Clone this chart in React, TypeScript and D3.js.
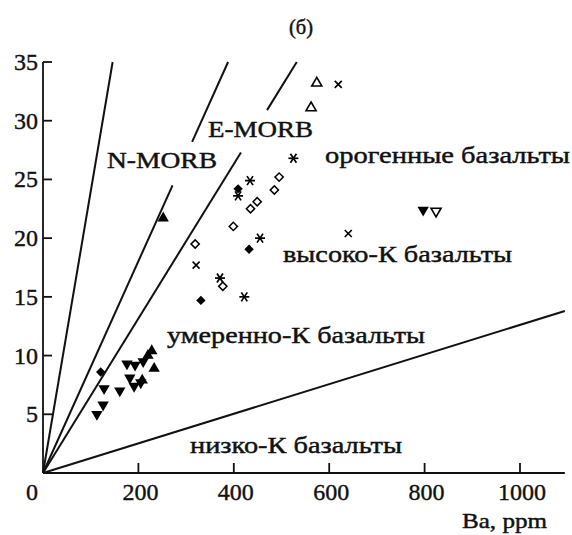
import React from 'react';
import * as d3 from 'd3';

// ---- data ----
const xTicks = [0, 200, 400, 600, 800, 1000];
const yTicks = [5, 10, 15, 20, 25, 30, 35];

// reference lines from origin: end point (Ba, K) and optional label gap (K range)
const lineEndBa = [146, 388, 532, 1094];
const lineEndK = [35, 35, 35, 13.8];
const lineGapLow = [null, 24.5, 27.3, null];
const lineGapHigh = [null, 28.2, 30.9, null];

const filledDown: [number, number][] = [
  [113, 5.0], [126, 5.8], [128, 7.2], [161, 7.0], [176, 9.3], [193, 9.2],
  [182, 8.1], [191, 7.4], [205, 7.7], [210, 9.5], [797, 22.4],
];
const filledUp: [number, number][] = [
  [252, 21.7], [208, 7.9], [220, 10.0], [228, 10.4], [233, 8.9],
];
const filledDiamond: [number, number][] = [
  [121, 8.6], [331, 14.7], [432, 19.05], [409, 24.2],
];
const openDiamond: [number, number][] = [
  [319, 19.5], [377, 15.9], [399, 21.0], [435, 22.5], [449, 23.1], [485, 24.1], [495, 25.2],
];
const openUp: [number, number][] = [[574, 33.2], [562, 31.1]];
const openDown: [number, number][] = [[824, 22.3]];
const crosses: [number, number][] = [[619, 33.1], [640, 20.4], [321, 17.7]];
const asterisks: [number, number][] = [
  [525, 26.8], [434, 24.9], [409, 23.6], [455, 20.0], [371, 16.6], [422, 15.0],
];

const FONT = '"Liberation Serif", "Times New Roman", serif';

export default function App() {
  const x = d3.scaleLinear().domain([0, 1000]).range([43, 520]);
  const y = d3.scaleLinear().domain([0, 35]).range([473, 62]);
  const xEnd = 1094;

  const tri = d3.symbol().type(d3.symbolTriangle).size(56)() as string;
  const triOpen = d3.symbol().type(d3.symbolTriangle).size(44)() as string;
  const sqFilled = d3.symbol().type(d3.symbolSquare).size(44)() as string;
  const sqOpen = d3.symbol().type(d3.symbolSquare).size(34)() as string;

  const segs: { x1: number; y1: number; x2: number; y2: number }[] = [];
  lineEndBa.forEach((ba, i) => {
    const k = lineEndK[i];
    const lo = lineGapLow[i];
    const hi = lineGapHigh[i];
    if (lo == null || hi == null) {
      segs.push({ x1: x(0), y1: y(0), x2: x(ba), y2: y(k) });
    } else {
      segs.push({ x1: x(0), y1: y(0), x2: x((ba * lo) / k), y2: y(lo) });
      segs.push({ x1: x((ba * hi) / k), y1: y(hi), x2: x(ba), y2: y(k) });
    }
  });

  const label = (t: string, px: number, py: number, w: number, fs: number) => (
    <text
      x={px}
      y={py}
      fontSize={fs}
      fontFamily={FONT}
      textLength={w}
      lengthAdjust="spacingAndGlyphs"
      fill="#111"
      stroke="#111"
      strokeWidth={0.45}
    >
      {t}
    </text>
  );

  return (
    <svg
      width={572}
      height={535}
      style={{ position: 'absolute', left: 0, top: 0, background: '#fff' }}
    >
      <rect width={572} height={535} fill="#fff" />
      {/* axes */}
      <line x1={x(0)} y1={y(0)} x2={x(xEnd)} y2={y(0)} stroke="#111" strokeWidth={1.8} />
      <line x1={x(0)} y1={y(0)} x2={x(0)} y2={y(35)} stroke="#111" strokeWidth={1.8} />
      {xTicks.filter((t) => t > 0).map((t) => (
        <line key={'xt' + t} x1={x(t)} x2={x(t)} y1={y(0)} y2={y(0) - 10} stroke="#111" strokeWidth={1.8} />
      ))}
      {yTicks.map((t) => (
        <line key={'yt' + t} x1={x(0)} x2={x(0) + 9} y1={y(t)} y2={y(t)} stroke="#111" strokeWidth={1.8} />
      ))}
      {xTicks.map((t) => (
        <text
          key={'xl' + t}
          x={t === 0 ? x(t) - 11 : x(t) + 2}
          y={500}
          fontSize={24}
          fontFamily={FONT}
          textAnchor="middle"
          fill="#111"
          stroke="#111"
          strokeWidth={0.4}
        >
          {t}
        </text>
      ))}
      {yTicks.map((t) => (
        <text
          key={'yl' + t}
          x={38}
          y={y(t) + 8}
          fontSize={24}
          fontFamily={FONT}
          textAnchor="end"
          fill="#111"
          stroke="#111"
          strokeWidth={0.4}
        >
          {t}
        </text>
      ))}

      {/* reference lines */}
      {segs.map((s, i) => (
        <line key={'s' + i} {...s} stroke="#111" strokeWidth={2} />
      ))}

      {/* points */}
      {filledDown.map(([b, k], i) => (
        <path key={'fd' + i} d={tri} transform={`translate(${x(b)},${y(k)}) rotate(180)`} fill="#000" />
      ))}
      {filledUp.map(([b, k], i) => (
        <path key={'fu' + i} d={tri} transform={`translate(${x(b)},${y(k)})`} fill="#000" />
      ))}
      {openDown.map(([b, k], i) => (
        <path key={'od' + i} d={triOpen} transform={`translate(${x(b)},${y(k)}) rotate(180)`} fill="#fff" stroke="#000" strokeWidth={1.6} />
      ))}
      {openUp.map(([b, k], i) => (
        <path key={'ou' + i} d={triOpen} transform={`translate(${x(b)},${y(k)})`} fill="#fff" stroke="#000" strokeWidth={1.6} />
      ))}
      {filledDiamond.map(([b, k], i) => (
        <path key={'fm' + i} d={sqFilled} transform={`translate(${x(b)},${y(k)}) rotate(45)`} fill="#000" />
      ))}
      {openDiamond.map(([b, k], i) => (
        <path key={'om' + i} d={sqOpen} transform={`translate(${x(b)},${y(k)}) rotate(45)`} fill="#fff" stroke="#000" strokeWidth={1.5} />
      ))}
      {crosses.map(([b, k], i) => (
        <g key={'cx' + i} transform={`translate(${x(b)},${y(k)})`} stroke="#000" strokeWidth={1.6}>
          <line x1={-3.5} y1={-3.5} x2={3.5} y2={3.5} />
          <line x1={-3.5} y1={3.5} x2={3.5} y2={-3.5} />
        </g>
      ))}
      {asterisks.map(([b, k], i) => (
        <g key={'as' + i} transform={`translate(${x(b)},${y(k)})`} stroke="#000" strokeWidth={1.7}>
          <line x1={-5} y1={0} x2={5} y2={0} />
          <line x1={-3} y1={-4.5} x2={3} y2={4.5} />
          <line x1={-3} y1={4.5} x2={3} y2={-4.5} />
        </g>
      ))}

      {/* labels */}
      {label('(б)', 289, 34, 24, 20)}
      {label('N-MORB', 107, 168, 110, 24)}
      {label('E-MORB', 208, 137, 105, 24)}
      {label('орогенные базальты', 325, 163, 245, 24)}
      {label('высоко-К базальты', 283, 262, 229, 24)}
      {label('умеренно-К базальты', 167, 343, 258, 24)}
      {label('низко-К базальты', 190, 453, 212, 24)}
      {label('Ba, ppm', 462, 528, 85, 22)}
    </svg>
  );
}
